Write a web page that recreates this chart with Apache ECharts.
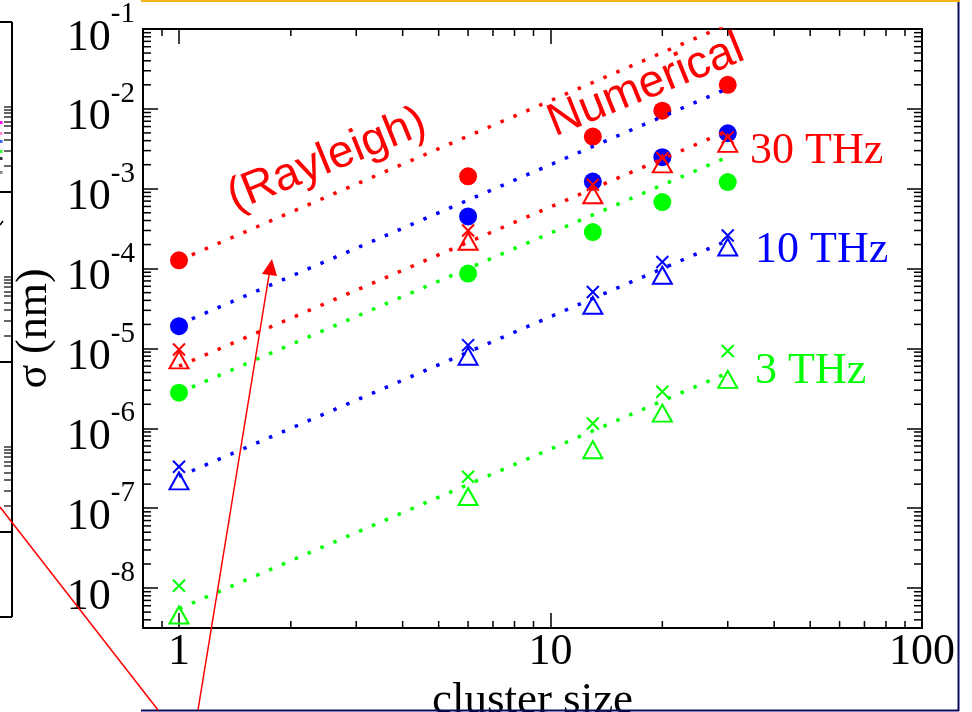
<!DOCTYPE html>
<html><head><meta charset="utf-8">
<script src="https://cdn.jsdelivr.net/npm/echarts@6/dist/echarts.min.js"></script>
<style>html,body{margin:0;padding:0;background:#fff}#c{width:972px;height:712px}</style>
</head><body><div id="c"></div>
<script>
// ---- data ----
const clusterSize = [1, 6, 13, 20, 30];
// Numerical results (filled circles)
const num30 = [1.27e-4, 1.43e-3, 4.5e-3, 9.5e-3, 2.0e-2];
const num10 = [1.9e-5, 4.5e-4, 1.23e-3, 2.48e-3, 4.95e-3];
const num3  = [2.79e-6, 8.66e-5, 2.87e-4, 6.8e-4, 1.21e-3];
// crosses
const cross30 = [9.7e-6, 3.0e-4, 1.12e-3, 2.41e-3, 4.4e-3];
const cross10 = [3.3e-7, 1.1e-5, 5.1e-5, 1.21e-4, 2.6e-4];
const cross3  = [1.07e-8, 2.48e-7, 1.15e-6, 2.87e-6, 9.3e-6];
// open triangles
const tri30 = [7.2e-6, 2.2e-4, 8.4e-4, 2.05e-3, 3.7e-3];
const tri10 = [2.2e-7, 8.0e-6, 3.47e-5, 8.25e-5, 1.86e-4];
const tri3  = [4.6e-9, 1.4e-7, 5.4e-7, 1.55e-6, 4.1e-6];
// Rayleigh dotted lines (end points)
const rayX = [1, 30];
const rayNum30 = [1.27e-4, 1.14e-1];
const rayNum10 = [2.0e-5, 1.8e-2];
const rayNum3  = [2.8e-6, 2.5e-3];
const ray30 = [6.0e-6, 5.3e-3];
const ray10 = [2.5e-7, 2.25e-4];
const ray3  = [5.5e-9, 4.95e-6];
// axes
const xMin = 0.8, xMax = 100;
const yMin = 3.16e-9, yMax = 0.1;
const xTickValues = [1, 10, 100];
const xTickLabels = ['1', '10', '100'];
const yTickValues = [1e-8, 1e-7, 1e-6, 1e-5, 1e-4, 1e-3, 1e-2, 1e-1];
const yTickExponents = ['-8', '-7', '-6', '-5', '-4', '-3', '-2', '-1'];
const xMinorTicks = [0.9, 2, 3, 4, 5, 6, 7, 8, 9, 20, 30, 40, 50, 60, 70, 80, 90];
const yMinorMult = [2, 3, 4, 5, 6, 7, 8, 9];
const yDecades = [1e-9, 1e-8, 1e-7, 1e-6, 1e-5, 1e-4, 1e-3, 1e-2];
const yMinorTicks = yDecades.flatMap(d => yMinorMult.map(m => m * d)).filter(v => v > yMin && v < yMax);

const RED = '#ff0000', BLUE = '#0000ff', GREEN = '#00ff00';
const SERIF = 'Liberation Serif';
const SANS = 'Liberation Sans';

function zip(xs, ys) { return xs.map((x, i) => [x, ys[i]]); }
function findIdx(vals, v) {
  const lv = Math.log10(v);
  return vals.findIndex(t => Math.abs(Math.log10(t) - lv) < 1e-6);
}

const crossPath = 'path://M0,0L10,10M10,0L0,10';

function dotted(name, ys, color) {
  return { name, type: 'line', data: zip(rayX, ys), showSymbol: false, symbol: 'none',
    lineStyle: { color, width: 3.5, type: [3.5, 10.5], cap: 'butt' }, clip: true, z: 3 };
}
function circles(name, ys, color) {
  return { name, type: 'scatter', data: zip(clusterSize, ys), symbol: 'circle', symbolSize: 18,
    itemStyle: { color, opacity: 1 }, z: 2 };
}
function tris(name, ys, color) {
  return { name, type: 'scatter', data: zip(clusterSize, ys), symbol: 'triangle', symbolSize: [19, 17],
    itemStyle: { color: 'rgba(255,255,255,0)', borderColor: color, borderWidth: 2, opacity: 1 }, z: 4 };
}
function crosses(name, ys, color) {
  return { name, type: 'scatter', data: zip(clusterSize, ys), symbol: crossPath, symbolSize: 12,
    itemStyle: { color: 'none', borderColor: color, borderWidth: 2, opacity: 1 }, z: 4 };
}

const tickStyle = { stroke: '#000', lineWidth: 1.5 };
const xMinorSeries = {
  type: 'custom', clip: false, silent: true, z: 5,
  data: xMinorTicks.map(v => [v, yMin]),
  renderItem: function (params, api) {
    const v = api.value(0);
    const b = api.coord([v, yMin]);
    const t = api.coord([v, yMax]);
    return { type: 'group', children: [
      { type: 'line', shape: { x1: b[0], y1: b[1], x2: b[0], y2: b[1] - 7 }, style: tickStyle },
      { type: 'line', shape: { x1: t[0], y1: t[1], x2: t[0], y2: t[1] + 7 }, style: tickStyle }
    ] };
  }
};
const yMinorSeries = {
  type: 'custom', clip: false, silent: true, z: 5,
  data: yMinorTicks.map(v => [xMin, v]),
  renderItem: function (params, api) {
    const v = api.value(1);
    const l = api.coord([xMin, v]);
    const r = api.coord([xMax, v]);
    return { type: 'group', children: [
      { type: 'line', shape: { x1: l[0], y1: l[1], x2: l[0] + 8, y2: l[1] }, style: tickStyle },
      { type: 'line', shape: { x1: r[0], y1: r[1], x2: r[0] - 8, y2: r[1] }, style: tickStyle }
    ] };
  }
};

const axisLine = { show: true, onZero: false, lineStyle: { color: '#000', width: 2 } };
const majorTick = { show: true, inside: true, length: 15, lineStyle: { color: '#000', width: 1.5 } };

function xAxisDef(pos, showLabel) {
  return {
    type: 'log', logBase: 10, min: xMin, max: xMax, position: pos,
    axisLine, axisTick: majorTick, splitLine: { show: false }, minorTick: { show: false },
    axisLabel: {
      show: showLabel, margin: 2, showMinLabel: true, showMaxLabel: true,
      fontFamily: SERIF, fontSize: 44, color: '#000',
      formatter: v => { const i = findIdx(xTickValues, v); return i < 0 ? '' : xTickLabels[i]; }
    },
    name: showLabel ? 'cluster size' : '', nameLocation: 'middle', nameGap: 36,
    nameTextStyle: { fontFamily: SERIF, fontSize: 45, color: '#000' }
  };
}
function yAxisDef(pos, showLabel) {
  return {
    type: 'log', logBase: 10, min: yMin, max: yMax, position: pos,
    axisLine, axisTick: majorTick, splitLine: { show: false }, minorTick: { show: false },
    axisLabel: {
      show: showLabel, margin: 8, showMinLabel: true, showMaxLabel: true,
      padding: [18, 0, 0, 0],
      formatter: v => { const i = findIdx(yTickValues, v); return i < 0 ? '' : '{b|10}{s|' + yTickExponents[i] + '}'; },
      rich: {
        b: { fontFamily: SERIF, fontSize: 44, color: '#000', lineHeight: 44, verticalAlign: 'bottom' },
        s: { fontFamily: SERIF, fontSize: 29, color: '#000', lineHeight: 29, verticalAlign: 'bottom', padding: [10, 0, 31, 0] }
      }
    },
    name: showLabel ? 'σ (nm)' : '', nameLocation: 'middle', nameGap: 80,
    nameTextStyle: { fontFamily: SERIF, fontSize: 44, color: '#000' }
  };
}

// ---- decorations of the slide (not data) ----
const deco = [];
deco.push({ type: 'rect', shape: { x: 141, y: 0, width: 819, height: 2 }, style: { fill: '#f5b21a' }, z: 100 });
deco.push({ type: 'rect', shape: { x: 957.5, y: 2, width: 2, height: 709 }, style: { fill: '#0a0a5e' }, z: 100 });
deco.push({ type: 'rect', shape: { x: 141, y: 709.5, width: 818, height: 2 }, style: { fill: '#0a0a5e' }, z: 100 });
// neighbouring plot frame at the left edge
deco.push({ type: 'line', shape: { x1: 12, y1: 22, x2: 12, y2: 617 }, style: { stroke: '#000', lineWidth: 2 }, z: 100 });
[22, 192, 362, 532, 617].forEach(y => deco.push({ type: 'line', shape: { x1: 0, y1: y, x2: 12, y2: y }, style: { stroke: '#000', lineWidth: 2 }, z: 100 }));
[192, 362, 532].forEach(m => [26, 41, 52, 59, 66, 70, 75, 79, 82, 85].forEach(o =>
  deco.push({ type: 'line', shape: { x1: 4, y1: m - o, x2: 12, y2: m - o }, style: { stroke: '#000', lineWidth: 1.2 }, z: 100 })));
[[122, '#ff00ff'], [133, '#ff88cc'], [141, '#3366ff'], [151, '#33ff33'], [158, '#333333'], [172, '#888888']].forEach(([y, c]) =>
  deco.push({ type: 'rect', shape: { x: 0, y: y - 1, width: 2.5, height: 3 }, style: { fill: c }, z: 101 }));
deco.push({ type: 'line', shape: { x1: 0, y1: 225, x2: 3, y2: 221 }, style: { stroke: '#000', lineWidth: 1.5 }, z: 100 });
// red pointer lines
deco.push({ type: 'line', shape: { x1: 0, y1: 507, x2: 158, y2: 710 }, style: { stroke: RED, lineWidth: 1.5 }, z: 100 });
deco.push({ type: 'line', shape: { x1: 198, y1: 710, x2: 269.5, y2: 272 }, style: { stroke: RED, lineWidth: 1.5 }, z: 100 });
deco.push({ type: 'polygon', shape: { points: [[272, 259], [262, 274], [277, 276]] }, style: { fill: RED }, z: 100 });
// annotations
deco.push({ type: 'text', x: 327, y: 160, rotation: 22 * Math.PI / 180,
  style: { text: '(Rayleigh)', font: '46px "' + SANS + '"', fill: RED, align: 'center', verticalAlign: 'middle' }, z: 100 });
deco.push({ type: 'text', x: 646, y: 86, rotation: 22 * Math.PI / 180,
  style: { text: 'Numerical', font: '46px "' + SANS + '"', fill: RED, align: 'center', verticalAlign: 'middle' }, z: 100 });
deco.push({ type: 'text', x: 750, y: 151, style: { text: '30 THz', font: '44px "' + SERIF + '"', fill: RED, align: 'left', verticalAlign: 'middle' }, z: 100 });
deco.push({ type: 'text', x: 755, y: 250, style: { text: '10 THz', font: '44px "' + SERIF + '"', fill: BLUE, align: 'left', verticalAlign: 'middle' }, z: 100 });
deco.push({ type: 'text', x: 755, y: 371, style: { text: '3 THz', font: '44px "' + SERIF + '"', fill: GREEN, align: 'left', verticalAlign: 'middle' }, z: 100 });

const chart = echarts.init(document.getElementById('c'), null, { renderer: 'canvas' });
chart.setOption({
  animation: false,
  backgroundColor: '#ffffff',
  grid: { left: 143, right: 50, top: 29, bottom: 84, containLabel: false, outerBoundsMode: 'none' },
  xAxis: [xAxisDef('bottom', true), xAxisDef('top', false)],
  yAxis: [yAxisDef('left', true), yAxisDef('right', false)],
  series: [
    dotted('Rayleigh num 30 THz', rayNum30, RED),
    dotted('Rayleigh num 10 THz', rayNum10, BLUE),
    dotted('Rayleigh num 3 THz', rayNum3, GREEN),
    dotted('Rayleigh 30 THz', ray30, RED),
    dotted('Rayleigh 10 THz', ray10, BLUE),
    dotted('Rayleigh 3 THz', ray3, GREEN),
    circles('Numerical 30 THz', num30, RED),
    circles('Numerical 10 THz', num10, BLUE),
    circles('Numerical 3 THz', num3, GREEN),
    tris('tri 30 THz', tri30, RED),
    tris('tri 10 THz', tri10, BLUE),
    tris('tri 3 THz', tri3, GREEN),
    crosses('cross 30 THz', cross30, RED),
    crosses('cross 10 THz', cross10, BLUE),
    crosses('cross 3 THz', cross3, GREEN),
    xMinorSeries,
    yMinorSeries
  ],
  graphic: deco
});
</script>
</body></html>
